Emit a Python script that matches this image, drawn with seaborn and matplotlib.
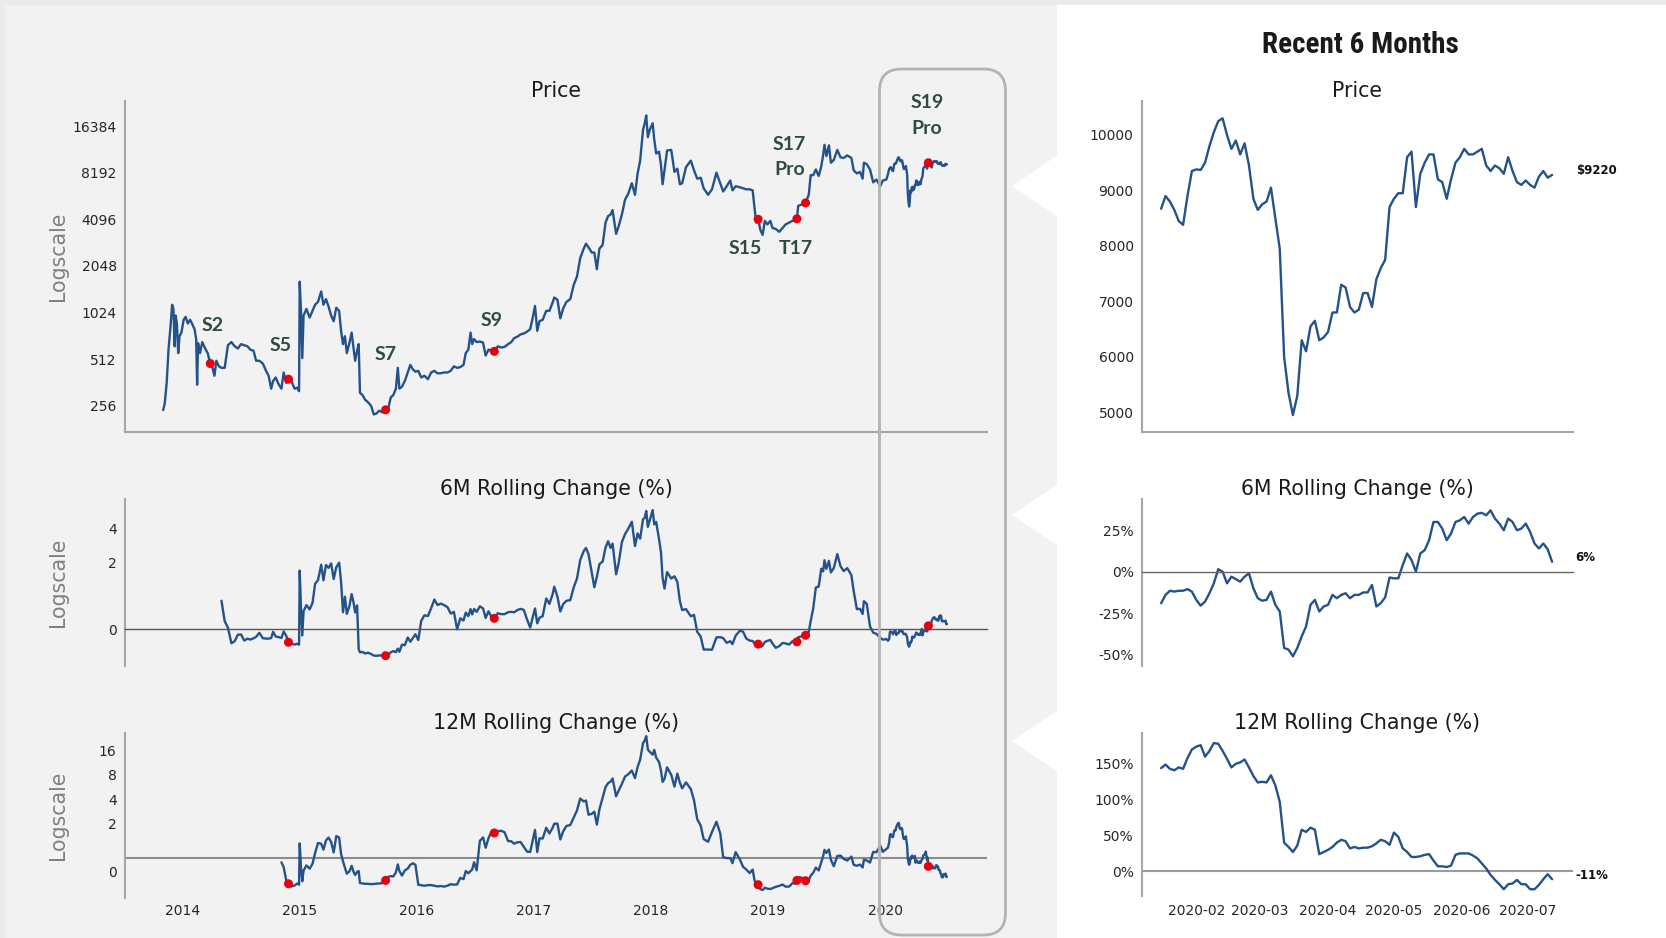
import numpy as np
import pandas as pd
import matplotlib
matplotlib.use('Agg')
import matplotlib.pyplot as plt
import matplotlib.dates as mdates
from matplotlib.ticker import NullLocator
from matplotlib.patches import FancyBboxPatch, Polygon, Rectangle
import seaborn as sns


hist_dates = [
    '2013-11-01', '2013-11-06', '2013-11-12', '2013-11-18', '2013-11-24', '2013-11-29',
    '2013-12-03', '2013-12-07', '2013-12-10', '2013-12-14', '2013-12-18', '2013-12-22', '2013-12-28',
    '2014-01-04', '2014-01-10', '2014-01-17', '2014-01-24', '2014-01-31', '2014-02-07', '2014-02-12',
    '2014-02-15', '2014-02-18', '2014-02-24', '2014-03-03', '2014-03-12', '2014-03-20', '2014-03-28',
    '2014-04-04', '2014-04-10', '2014-04-16', '2014-04-24', '2014-05-02', '2014-05-12', '2014-05-22',
    '2014-06-02', '2014-06-12', '2014-06-22', '2014-07-02', '2014-07-12', '2014-07-22', '2014-07-31',
    '2014-08-10', '2014-08-18', '2014-08-28', '2014-09-08', '2014-09-18', '2014-09-26', '2014-10-04',
    '2014-10-10', '2014-10-18', '2014-10-28', '2014-11-05', '2014-11-12', '2014-11-20', '2014-11-27',
    '2014-12-06', '2014-12-16', '2014-12-24', '2014-12-30',
    '2015-01-01', '2015-01-05', '2015-01-09', '2015-01-13', '2015-01-22', '2015-02-01', '2015-02-10',
    '2015-02-18', '2015-02-27', '2015-03-09', '2015-03-16', '2015-03-24', '2015-04-01', '2015-04-09',
    '2015-04-17', '2015-04-25', '2015-05-04', '2015-05-10', '2015-05-16', '2015-05-22', '2015-05-28',
    '2015-06-05', '2015-06-12', '2015-06-18', '2015-06-23', '2015-06-29', '2015-07-04', '2015-07-08',
    '2015-07-16', '2015-07-24', '2015-08-02', '2015-08-12', '2015-08-20', '2015-08-28', '2015-09-06',
    '2015-09-16', '2015-09-26', '2015-10-05', '2015-10-12', '2015-10-20', '2015-10-28', '2015-11-03',
    '2015-11-08', '2015-11-16', '2015-11-25', '2015-12-04', '2015-12-12', '2015-12-20', '2015-12-28',
    '2016-01-06', '2016-01-15', '2016-01-25', '2016-02-05', '2016-02-15', '2016-02-25', '2016-03-06',
    '2016-03-16', '2016-03-26', '2016-04-06', '2016-04-16', '2016-04-26', '2016-05-06', '2016-05-16',
    '2016-05-26', '2016-06-02', '2016-06-10', '2016-06-17', '2016-06-22', '2016-06-28', '2016-07-06',
    '2016-07-16', '2016-07-26', '2016-08-03', '2016-08-12', '2016-08-21', '2016-08-30', '2016-09-10',
    '2016-09-20', '2016-10-01', '2016-10-12', '2016-10-22', '2016-10-31', '2016-11-10', '2016-11-20',
    '2016-11-30', '2016-12-10', '2016-12-20', '2016-12-28',
    '2017-01-04', '2017-01-11', '2017-01-18', '2017-01-28', '2017-02-08', '2017-02-18', '2017-02-28',
    '2017-03-05', '2017-03-15', '2017-03-24', '2017-04-02', '2017-04-12', '2017-04-24', '2017-05-05',
    '2017-05-15', '2017-05-25', '2017-06-05', '2017-06-12', '2017-06-20', '2017-06-30', '2017-07-08',
    '2017-07-16', '2017-07-24', '2017-08-03', '2017-08-12', '2017-08-20', '2017-08-28', '2017-09-03',
    '2017-09-14', '2017-09-22', '2017-10-02', '2017-10-12', '2017-10-22', '2017-11-02', '2017-11-12',
    '2017-11-20', '2017-11-28', '2017-12-07', '2017-12-12', '2017-12-17', '2017-12-22', '2017-12-28',
    '2018-01-06', '2018-01-11', '2018-01-17', '2018-01-26', '2018-02-01', '2018-02-06', '2018-02-12',
    '2018-02-20', '2018-03-05', '2018-03-15', '2018-03-24', '2018-04-01', '2018-04-08', '2018-04-20',
    '2018-05-05', '2018-05-15', '2018-05-25', '2018-06-05', '2018-06-14', '2018-06-28', '2018-07-10',
    '2018-07-24', '2018-08-05', '2018-08-14', '2018-08-25', '2018-09-05', '2018-09-12', '2018-09-22',
    '2018-10-05', '2018-10-15', '2018-10-25', '2018-11-05', '2018-11-14', '2018-11-20', '2018-11-25',
    '2018-12-01', '2018-12-08', '2018-12-15', '2018-12-22', '2018-12-30',
    '2019-01-08', '2019-01-15', '2019-01-25', '2019-02-05', '2019-02-15', '2019-02-25', '2019-03-08',
    '2019-03-18', '2019-03-28', '2019-04-01', '2019-04-05', '2019-04-15', '2019-04-28', '2019-05-08',
    '2019-05-14', '2019-05-22', '2019-05-30', '2019-06-08', '2019-06-16', '2019-06-22', '2019-06-26',
    '2019-07-02', '2019-07-10', '2019-07-16', '2019-07-25', '2019-08-05', '2019-08-15', '2019-08-25',
    '2019-09-05', '2019-09-18', '2019-09-25', '2019-10-05', '2019-10-15', '2019-10-23', '2019-10-27',
    '2019-11-05', '2019-11-15', '2019-11-25', '2019-12-05', '2019-12-17', '2019-12-25',
    '2020-01-05', '2020-01-10', '2020-01-14',
]
hist_price = [
    240, 265, 360, 600, 830, 1150,
    1080, 620, 980, 860, 560, 720, 760,
    920, 960, 870, 920, 860, 800, 690,
    350, 650, 560, 660, 600, 560, 480,
    450, 400, 500, 460, 450, 450, 630,
    660, 620, 600, 640, 630, 620, 590,
    580, 500, 500, 480, 430, 400, 330,
    370, 390, 350, 330, 420, 360, 380,
    370, 330, 335, 318,
    1620, 1050, 520, 980, 1080, 950, 1050,
    1150, 1200, 1400, 1150, 1250, 1120, 980,
    900, 1100, 1050, 780, 640, 720, 560,
    650, 760, 600, 500, 580, 640, 310,
    300, 280, 270, 255, 225, 228, 238,
    232, 241, 250, 290, 300, 330, 450,
    330, 340, 370, 420, 470, 440, 425,
    430, 390, 400, 380, 420, 430, 415,
    415, 420, 420, 430, 460, 450, 455,
    470, 560, 590, 760, 640, 690, 660,
    665, 655, 540, 590, 580, 575, 620,
    608, 615, 640, 660, 700, 715, 740,
    750, 770, 800, 950,
    1130, 780, 900, 920, 1050, 1050, 1190,
    1280, 1240, 940, 1090, 1200, 1250, 1550,
    1750, 2300, 2650, 2850, 2700, 2500, 2500,
    1950, 2650, 2800, 3900, 4300, 4400, 4700,
    3300, 3700, 4400, 5500, 6000, 7000, 5900,
    8100, 9800, 15500, 17000, 19200, 13900, 15500,
    17100, 13400, 10900, 11200, 9200, 6900, 8500,
    11400, 11500, 8300, 8700, 6900, 7000, 8900,
    9800, 8500, 7500, 7600, 6500, 5900, 6400,
    8200, 7000, 6200, 6700, 7300, 6300, 6700,
    6600, 6500, 6400, 6400, 6300, 4800, 3900,
    4100, 3500, 3250, 4000, 3800,
    4000, 3600, 3550, 3400, 3600, 3800, 3900,
    4000, 4050, 4130, 5000, 5100, 5230, 5900,
    7900, 7900, 8600, 7800, 9000, 10700, 12400,
    10500, 12300, 9500, 9900, 11500, 10300, 10200,
    10600, 10200, 8500, 8100, 8300, 7500, 9500,
    9300, 8600, 7100, 7400, 6700, 7300,
    7400, 8000, 8700,
]

# ---- recent 6 months, every second day from 2020-01-16 (right panels) ----
recent_start = '2020-01-16'
recent_price = [
    8670, 8900, 8800, 8650, 8450, 8380, 8900, 9350, 9380, 9370,
    9500, 9800, 10050, 10250, 10300, 10000, 9750, 9900, 9650, 9850,
    9450, 8850, 8650, 8750, 8800, 9050, 8500, 7950, 6000, 5350,
    4950, 5300, 6300, 6100, 6550, 6650, 6300, 6350, 6450, 6800,
    6800, 7300, 7250, 6900, 6800, 6850, 7150, 7150, 6900, 7400,
    7600, 7750, 8700, 8850, 8950, 8950, 9600, 9700, 8700, 9300,
    9500, 9650, 9650, 9200, 9150, 8850, 9200, 9500, 9600, 9750,
    9650, 9650, 9700, 9750, 9450, 9350, 9450, 9400, 9300, 9600,
    9350, 9150, 9100, 9180, 9100, 9050, 9250, 9350, 9230, 9280,
]
recent_chg_6m = [
    -19, -14, -11.5, -12, -11.5, -11.5, -10.5, -12, -17, -20.5,
    -18, -13, -7, 1.5, 0, -7, -3, -4.5, -6, -3,
    -1, -10, -16, -17.5, -17, -12, -20, -24, -46, -47,
    -51, -46, -39, -33, -20, -17, -24, -21, -20, -14,
    -16, -14, -13, -16, -14, -14, -12.5, -12.5, -8, -21,
    -19, -15.5, -3.5, -4, -4, 4, 11, 7, 0, 11,
    13, 19, 30, 30, 26, 19, 23, 30, 31, 33,
    29, 33, 35, 35.5, 34, 37, 32, 29, 25, 32,
    30, 25, 26, 29, 24, 17, 14, 17, 13.5, 6,
]
recent_chg_12m = [
    144, 149, 143, 141, 145, 143, 158, 170, 174, 176,
    160, 168, 179, 178, 168, 157, 145, 150, 152, 156,
    145, 133, 124, 125, 124, 134, 120, 97, 40, 34,
    27, 36, 58, 55, 61, 58, 24, 27, 30, 34,
    40, 44, 42, 32, 34, 32, 33, 33, 35, 39,
    44, 42, 37, 54, 48, 32, 27, 20, 20, 21,
    23, 24, 15, 7, 7, 6, 8, 23, 25, 25,
    25, 22, 18, 11, 4, -5, -12, -18, -25, -18,
    -17, -12, -18, -18, -25, -25, -19, -11, -4, -11,
]
end_labels = ['$9220', '6%', '-11%']

# ---- miner releases ----
release_names = ['S2', 'S5', 'S7', 'S9', 'S15', 'T17', 'S17\nPro', 'S19\nPro']
release_dates = ['2014-03-28', '2014-11-27', '2015-09-26', '2016-08-30',
                 '2018-12-01', '2019-04-01', '2019-04-28', '2020-05-14']

price_ticks = [256, 512, 1024, 2048, 4096, 8192, 16384]
chg6_ticks = [0, 2, 4]
chg12_ticks = [0, 2, 4, 8, 16]
pct6_ticks = [-50, -25, 0, 25]
pct12_ticks = [0, 50, 100, 150]


sns.set_theme(style='white')
plt.rcParams['font.family'] = ['DejaVu Sans']
plt.rcParams['axes.unicode_minus'] = False

LINE = '#24528a'
DOT = '#e8000d'
TXT = '#2e4b43'
W, H = 1666, 938

recent_dates = pd.date_range(recent_start, periods=len(recent_price), freq='2D')
dates_all = pd.DatetimeIndex(pd.to_datetime(hist_dates).tolist() + recent_dates.tolist())
price = pd.Series(hist_price + recent_price, index=dates_all, dtype=float)


def rolling_change(months):
    prev = price.asof(price.index - pd.DateOffset(months=months))
    return pd.Series(price.values / prev.values - 1, index=price.index)


chg6 = rolling_change(6).dropna()
chg12 = rolling_change(12).dropna()


def nearest(series, d):
    i = series.index.get_indexer([pd.Timestamp(d)], method='nearest')[0]
    return series.index[i], series.iloc[i]


def box(x0, y0, x1, y1):
    return [x0 / W, 1 - y1 / H, (x1 - x0) / W, (y1 - y0) / H]


fig = plt.figure(figsize=(16.66, 9.38), dpi=100, facecolor='#ebebeb')

# slide backgrounds
fig.patches.append(Rectangle((5 / W, 0), (1057 - 5) / W, 1 - 5 / H, transform=fig.transFigure,
                             fc='#f2f2f2', ec='none', zorder=-10))
fig.patches.append(Rectangle((1057 / W, 0), 1 - 1057 / W, 1 - 5 / H, transform=fig.transFigure,
                             fc='white', ec='none', zorder=-10))
for yc in [186, 515, 741]:
    tri = [(1012 / W, 1 - yc / H), (1058 / W, 1 - (yc - 31) / H), (1058 / W, 1 - (yc + 31) / H)]
    fig.patches.append(Polygon(tri, closed=True, transform=fig.transFigure,
                               fc='white', ec='none', zorder=-9))


def style(ax):
    ax.set_facecolor('none')
    for s in ['top', 'right']:
        ax.spines[s].set_visible(False)
    for s in ['left', 'bottom']:
        ax.spines[s].set_color('#a6a6a6')
        ax.spines[s].set_linewidth(1.5)
    ax.tick_params(axis='both', colors='#a6a6a6', labelcolor='#262626', labelsize=10,
                   length=3, width=1, pad=3)
    ax.set_xlabel('')
    ax.set_ylabel('')
    ax.yaxis.set_minor_locator(NullLocator())


def line(ax, s):
    sns.lineplot(x=s.index, y=s.values, ax=ax, color=LINE, linewidth=1.7, estimator=None)


def dots(ax, s):
    xs, ys = [], []
    for d in release_dates:
        x, y = nearest(s, d)
        if abs((x - pd.Timestamp(d)).days) < 20:
            xs.append(x)
            ys.append(y)
    sns.scatterplot(x=xs, y=ys, ax=ax, color=DOT, s=42, edgecolor='none', zorder=5)


# ---------------- left column ----------------
left_x0, left_x1 = 125, 987
ax_p = fig.add_axes(box(left_x0, 101, left_x1, 432.5))
ax_6 = fig.add_axes(box(left_x0, 499.4, left_x1, 666.2))
ax_12 = fig.add_axes(box(left_x0, 733, left_x1, 897.8))

line(ax_p, price)
dots(ax_p, price)
ax_p.set_yscale('log', base=2)
ax_p.set_ylim(172, 23800)

line(ax_6, chg6)
dots(ax_6, chg6)
ax_6.set_yscale('symlog', base=2, linthresh=1, linscale=0.48)
ax_6.set_ylim(-1.09, 7.26)

line(ax_12, chg12)
dots(ax_12, chg12)
ax_12.set_yscale('symlog', base=2, linthresh=1, linscale=0.48)
ax_12.set_ylim(-1.1, 26.2)

for ax, ticks in [(ax_p, price_ticks), (ax_6, chg6_ticks), (ax_12, chg12_ticks)]:
    style(ax)
    ax.set_yticks(ticks)
    ax.set_yticklabels([str(t) for t in ticks])
    ax.yaxis.set_minor_locator(NullLocator())
    ax.set_xlim(pd.Timestamp('2013-07-05'), pd.Timestamp('2020-11-14'))
    ax.xaxis.set_major_locator(mdates.YearLocator())
    ax.xaxis.set_major_formatter(mdates.DateFormatter('%Y'))
    ax.tick_params(axis='x', length=2.5, pad=2)
    ax.set_ylabel('Logscale', fontsize=14.8, color='#808080')
    ax.yaxis.set_label_coords(-0.066, 0.5)

ax_p.yaxis.set_label_coords(-0.066, 0.53)
ax_p.tick_params(axis='x', labelbottom=False)
ax_6.tick_params(axis='x', labelbottom=False)
ax_6.spines['bottom'].set_position(('data', 0))
ax_6.spines['bottom'].set_color('#555555')
ax_6.spines['bottom'].set_linewidth(1)
ax_12.spines['bottom'].set_visible(False)
ax_12.axhline(0.55, color='#8c8c8c', lw=1.5, zorder=0)

ax_p.set_title('Price', fontsize=14.8, pad=3, color='#1a1a1a')
ax_6.set_title('6M Rolling Change (%)', fontsize=14.8, pad=3, color='#1a1a1a')
ax_12.set_title('12M Rolling Change (%)', fontsize=14.8, pad=3, color='#1a1a1a')

label_offsets = [(1.5, 27), (-6, 24.5), (0, 40), (-2, 22), (-9, -21), (-1, -21.5),
                 (-11.5, 33), (-1, 34)]
for name, d, off in zip(release_names, release_dates, label_offsets):
    x, y = nearest(price, d)
    ax_p.annotate(name, xy=(mdates.date2num(x), y), xytext=off, textcoords='offset points',
                  ha='center', va='center', fontsize=14, fontweight='bold', color=TXT,
                  family=['Lato', 'DejaVu Sans'], linespacing=1.6)

# ---------------- right column ----------------
right_x0, right_x1 = 1142, 1572.5
bx_p = fig.add_axes(box(right_x0, 101, right_x1, 432.5))
bx_6 = fig.add_axes(box(right_x0, 499.4, right_x1, 666.2))
bx_12 = fig.add_axes(box(right_x0, 733, right_x1, 895.7))

r_price = pd.Series(recent_price, index=recent_dates, dtype=float)
r_6 = pd.Series(recent_chg_6m, index=recent_dates, dtype=float)
r_12 = pd.Series(recent_chg_12m, index=recent_dates, dtype=float)

for ax, s, lim, ticks, fmt in [
        (bx_p, r_price, (4636, 10613), [5000, 6000, 7000, 8000, 9000, 10000], '{:d}'),
        (bx_6, r_6, (-57, 43.6), pct6_ticks, '{:d}%'),
        (bx_12, r_12, (-34, 193), pct12_ticks, '{:d}%')]:
    line(ax, s)
    style(ax)
    ax.set_ylim(*lim)
    ax.set_yticks(ticks)
    ax.set_yticklabels([fmt.format(t) for t in ticks])
    ax.set_xlim(pd.Timestamp('2020-01-07 07:00'), pd.Timestamp('2020-07-21 07:00'))
    ax.xaxis.set_major_locator(mdates.MonthLocator())
    ax.xaxis.set_major_formatter(mdates.DateFormatter('%Y-%m'))
    ax.tick_params(axis='x', length=3.5, pad=2.5)

bx_p.tick_params(axis='x', labelbottom=False)
bx_6.tick_params(axis='x', labelbottom=False)
bx_6.spines['bottom'].set_position(('data', 0))
bx_6.spines['bottom'].set_color('#666666')
bx_6.spines['bottom'].set_linewidth(1)
bx_12.spines['bottom'].set_visible(False)
bx_12.axhline(0, color='#9a9a9a', lw=1.5, zorder=0)

bx_p.set_title('Price', fontsize=14.8, pad=3, color='#1a1a1a')
bx_6.set_title('6M Rolling Change (%)', fontsize=14.8, pad=3, color='#1a1a1a')
bx_12.set_title('12M Rolling Change (%)', fontsize=14.8, pad=3, color='#1a1a1a')

for ax, s, txt in zip([bx_p, bx_6, bx_12], [r_price, r_6, r_12], end_labels):
    ax.annotate(txt.replace('$', r'\$'), xy=(mdates.date2num(s.index[-1]), s.iloc[-1]),
                xytext=(17, 3), textcoords='offset points', ha='left', va='center',
                fontsize=8.5, fontweight='bold', color='#111111')

fig.text(1360 / W, 1 - 45 / H, 'Recent 6 Months', ha='center', va='center', fontsize=21,
         fontweight='bold', color='#1a1a1a',
         family=['Liberation Sans Narrow', 'Roboto Condensed', 'DejaVu Sans'])

# highlight box around 2020
hl = FancyBboxPatch((8.795, 0.03), 1.26, 8.66, boxstyle='round,pad=0,rounding_size=0.22',
                    transform=fig.dpi_scale_trans, fc='none', ec='#b3b3b3', lw=2, zorder=5)
fig.add_artist(hl)

fig.savefig('out.png', dpi=100, facecolor=fig.get_facecolor())
